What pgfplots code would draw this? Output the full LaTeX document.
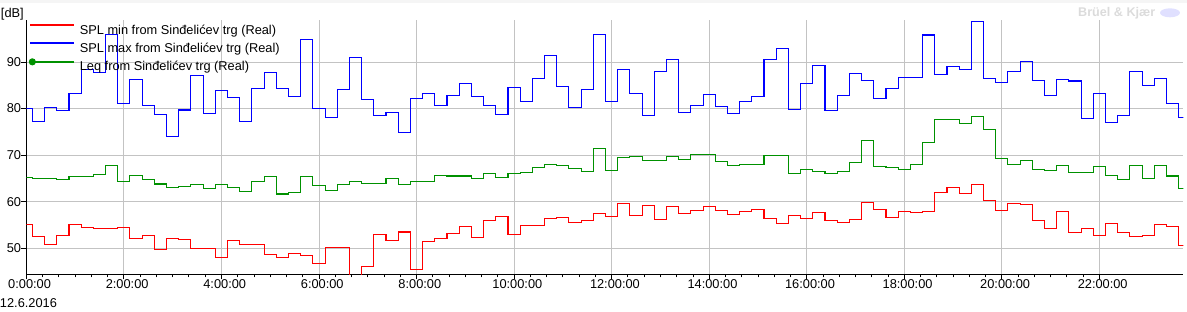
\documentclass[border=0pt]{standalone}
\usepackage{pgfplots}
\pgfplotsset{compat=1.18}
\usepackage{pgfplotstable}
\usepackage{fontspec}
\setmainfont{Liberation Sans}
\definecolor{cred}{RGB}{255,0,0}
\definecolor{cblue}{RGB}{0,0,255}
\definecolor{cgreen}{RGB}{0,145,0}
\definecolor{cgrid}{RGB}{195,195,195}
\pgfplotsset{
  redimage/.style={legend image code/.code={\path (-3pt,0pt) (44pt,0pt); \path[fill=cred] (0pt,5.4pt) rectangle (43pt,6.6pt);}},
  blueimage/.style={legend image code/.code={\path (-3pt,0pt) (44pt,0pt); \path[fill=cblue] (0pt,5.4pt) rectangle (43pt,6.6pt);}},
  leqimage/.style={legend image code/.code={\path (-3pt,0pt) (44pt,0pt); \path[fill=cgreen] (0pt,5.4pt) rectangle (43pt,6.6pt); \path[fill=cgreen] (1.8pt,6pt) circle (3pt);}},
}
\pgfplotstableread{
t mn mx lq
0.00 55.15 80.05 65.17
0.25 52.58 77.30 64.96
0.50 50.86 80.30 64.96
0.75 52.79 79.60 64.81
1.00 55.08 83.30 65.46
1.25 54.50 88.40 65.46
1.50 54.29 87.80 65.89
1.75 54.29 95.90 67.82
2.00 54.50 81.10 64.38
2.25 52.15 86.30 65.67
2.50 52.79 80.70 64.81
2.75 49.64 78.80 63.81
3.00 52.15 74.00 63.09
3.25 51.93 79.70 63.24
3.50 50.00 87.10 63.74
3.75 50.00 79.00 62.81
4.00 48.07 83.90 63.74
4.25 51.72 82.40 63.09
4.50 50.86 77.30 62.24
4.75 50.86 84.30 64.31
5.00 48.71 87.80 65.46
5.25 48.07 84.30 61.66
5.50 48.93 82.63 62.02
5.75 48.50 94.87 65.46
6.00 46.78 80.05 63.52
6.25 50.21 78.12 62.45
6.50 50.21 84.13 63.74
6.75 43.00 91.00 64.38
7.00 46.14 81.99 63.95
7.25 53.00 78.55 63.95
7.50 51.72 79.20 65.03
7.75 53.50 74.90 63.74
8.00 45.49 82.20 64.38
8.25 51.50 83.27 64.38
8.50 52.15 80.70 65.67
8.75 53.22 82.84 65.53
9.00 54.72 85.42 65.53
9.25 52.36 82.63 65.03
9.50 56.01 80.70 66.10
9.75 56.87 78.77 65.24
10.00 53.00 84.56 66.10
10.25 54.94 81.56 66.31
10.50 54.94 86.49 67.39
10.75 56.44 91.43 68.03
11.00 56.65 84.78 67.82
11.25 55.58 80.27 67.17
11.50 56.01 84.13 66.53
11.75 57.51 95.94 71.47
12.00 56.87 81.56 66.74
12.25 59.66 88.43 69.53
12.50 57.08 83.27 69.75
12.75 59.23 78.55 68.89
13.00 56.22 88.00 68.89
13.25 59.02 90.57 69.75
13.50 57.51 79.20 69.10
13.75 58.16 80.70 70.18
14.00 59.02 83.06 70.18
14.25 58.16 80.48 68.68
14.50 57.30 78.98 67.82
14.75 57.94 81.56 68.03
15.00 58.37 82.63 68.03
15.25 56.44 90.57 69.96
15.50 55.37 92.93 69.96
15.75 57.08 79.84 66.10
16.00 56.44 85.42 66.96
16.25 57.72 89.28 66.53
16.50 56.01 79.62 66.10
16.75 55.58 82.84 66.53
17.00 56.22 87.57 68.46
17.25 59.87 86.06 73.18
17.50 58.37 82.20 67.60
17.75 56.65 84.35 67.39
18.00 57.94 86.70 66.96
18.25 57.72 86.70 68.03
18.50 57.94 95.80 72.75
18.75 62.02 87.35 77.69
19.00 63.09 89.07 77.69
19.25 61.81 88.43 76.83
19.50 63.74 98.73 78.34
19.75 60.30 86.49 75.55
20.00 58.16 85.63 69.32
20.25 59.66 88.00 68.03
20.50 59.45 90.14 68.82
20.75 56.01 86.06 66.96
21.00 54.29 82.84 66.74
21.25 57.94 86.28 67.82
21.50 53.43 85.92 66.31
21.75 54.29 77.91 66.31
22.00 52.79 83.27 67.60
22.25 55.37 77.05 65.67
22.50 53.43 78.55 64.81
22.75 52.58 88.00 67.82
23.00 52.79 84.99 65.03
23.25 55.15 86.49 67.82
23.50 54.72 81.13 65.53
23.75 50.64 78.12 62.88
}\data
\begin{document}
\begin{tikzpicture}
\fontsize{12.8}{15}\selectfont
\begin{axis}[
  at={(0pt,0pt)}, anchor=south west,
  scale only axis, width=1157pt, height=253.8pt,
  xmin=0, xmax=23.72, ymin=44.41, ymax=98.92,
  axis x line=bottom, axis y line=left,
  axis line style={black, line width=0.8pt, -},
  tick align=outside, major tick length=5pt, minor tick length=3pt,
  tick style={black, line width=0.8pt},
  xtick={0,2,...,22},
  xticklabels={0:00:00,2:00:00,4:00:00,6:00:00,8:00:00,10:00:00,12:00:00,14:00:00,16:00:00,18:00:00,20:00:00,22:00:00},
  minor x tick num=5,
  ytick={50,60,70,80,90},
  grid=major, grid style={cgrid, line width=0.8pt},
  /pgf/number format/assume math mode=true,
  ticklabel style={font=\fontsize{12.8}{15}\selectfont},
  xticklabel style={anchor=north, inner sep=0pt, xshift=3.3pt},
  yticklabel style={anchor=east, inner sep=0pt},
  legend style={draw=none, fill=none, at={(axis description cs:0,1)}, anchor=north west,
    xshift=0.7pt, yshift=-1.8pt, inner sep=0pt, outer sep=0pt, row sep=0pt, column sep=4.7pt,
    font=\fontsize{12.8}{15}\selectfont,
    nodes={inner sep=0pt, text height=12pt, text depth=6pt}},
  legend cell align=left,
]
\addplot[cred, line width=1.1pt, const plot mark mid, redimage] table[x=t, y=mn]{\data};
\addlegendentry{SPL min from Sinđelićev trg (Real)}
\addplot[cblue, line width=1.1pt, const plot mark mid, blueimage] table[x=t, y=mx]{\data};
\addlegendentry{SPL max from Sinđelićev trg (Real)}
\addplot[cgreen, line width=1.1pt, const plot mark mid, leqimage] table[x=t, y=lq]{\data};
\addlegendentry{Leq from Sinđelićev trg (Real)}
\end{axis}
\fill[gray!8] (-26.3pt,271.3pt) rectangle (1160.7pt,274.3pt);
\node[anchor=base west, inner sep=0pt] at (-25.5pt,257pt) {[dB]};
\node[anchor=base west, inner sep=0pt] at (-26.5pt,-33pt) {12.6.2016};
\node[anchor=base west, inner sep=0pt, text=gray!28, font=\bfseries\fontsize{12.6}{14}\selectfont] at (1051.7pt,257.6pt) {Brüel \& Kjær};
\fill[blue!12] (1143.7pt,261.5pt) ellipse (10pt and 4.5pt);
\pgfresetboundingbox
\path[use as bounding box] (-26.3pt,-36.7pt) rectangle (1160.7pt,274.3pt);
\end{tikzpicture}
\end{document}
